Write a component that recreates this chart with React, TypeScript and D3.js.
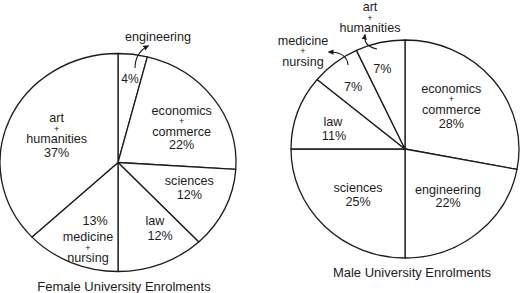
import React from "react";
import * as d3 from "d3";

// ---- data ----
const femaleCategories = ["engineering", "economics + commerce", "sciences", "law", "medicine + nursing", "art + humanities"];
const femaleValues = [4, 22, 12, 12, 13, 37];
const maleCategories = ["economics + commerce", "engineering", "sciences", "law", "medicine + nursing", "art + humanities"];
const maleValues = [28, 22, 25, 11, 7, 7];
const chartTitles = ["Female University Enrolments", "Male University Enrolments"];

// ---- layout (positions only) ----
type P = [number, number];
const femaleLayout = {
  cx: 118, cy: 162.5, rx: 118, ry: 109,
  title: [124, 286] as P,
  labels: [
    { name: [158, 36.5] as P, pct: [130, 79], pctSize: 12 },
    { name: [181.7, 110.5] as P, pct: [181.7, 145] as P },
    { name: [189.3, 181] as P, pct: [189.3, 194.5] as P },
    { name: [155, 221] as P, pct: [160, 236] as P },
    { name: [88, 237] as P, pct: [95, 220.5] as P },
    { name: [56.7, 118] as P, pct: [56.7, 152.5] as P },
  ],
  arrows: ["M135,68 Q135,53 148,46"],
};
const maleLayout = {
  cx: 405, cy: 149, rx: 114, ry: 109,
  title: [412, 272] as P,
  labels: [
    { name: [451.3, 88.5] as P, pct: [451.3, 123.5] as P },
    { name: [448, 189.5] as P, pct: [448, 203] as P },
    { name: [358, 188] as P, pct: [358, 202] as P },
    { name: [333, 121.5] as P, pct: [334, 136] as P },
    { name: [303, 40.5] as P, pct: [353, 87.3] as P },
    { name: [370, 7] as P, pct: [382.3, 69.3] as P },
  ],
  arrows: ["M377,49 Q363,46 365,35", "M348,65 Q347,52 329,52"],
};

const INK = "#1c1c1c";
const FONT = "'Liberation Sans', Arial, Helvetica, sans-serif";
const LABEL_SIZE = 12.6;

function NameBlock({ text, at }: { text: string; at: P }) {
  const parts = text.split(" + ");
  const lines: { t: string; plus: boolean }[] = [];
  parts.forEach((p, i) => {
    if (i > 0) lines.push({ t: "+", plus: true });
    lines.push({ t: p, plus: false });
  });
  let y = at[1];
  const out: React.ReactNode[] = [];
  lines.forEach((l, i) => {
    if (i > 0) y += l.plus || lines[i - 1].plus ? 10.5 : 13.5;
    out.push(
      <text key={i} x={at[0]} y={y} textAnchor="middle" dominantBaseline="central"
        fontSize={l.plus ? 9 : LABEL_SIZE} fill={INK} fontFamily={FONT}>{l.t}</text>
    );
  });
  return <g>{out}</g>;
}

function Pie({ categories, values, layout, title, id }: any) {
  const pie = d3.pie<number>().sort(null).value((d) => d).startAngle(0).endAngle(2 * Math.PI);
  const arcs = pie(values);
  const arc = d3.arc<d3.PieArcDatum<number>>().innerRadius(0).outerRadius(layout.ry);
  const sx = layout.rx / layout.ry;
  return (
    <g>
      <g transform={`translate(${layout.cx},${layout.cy}) scale(${sx},1)`}>
        {arcs.map((a, i) => (
          <path key={i} d={arc(a) || ""} fill="#fff" stroke={INK} strokeWidth={1.3}
            vectorEffect="non-scaling-stroke" strokeLinejoin="round" />
        ))}
      </g>
      {arcs.map((a, i) => (
        <g key={"l" + i}>
          <NameBlock text={categories[i]} at={layout.labels[i].name} />
          <text x={layout.labels[i].pct[0]} y={layout.labels[i].pct[1]} textAnchor="middle"
            dominantBaseline="central" fontSize={layout.labels[i].pctSize || LABEL_SIZE} fill={INK}
            fontFamily={FONT}>{`${values[i]}%`}</text>
        </g>
      ))}
      {layout.arrows.map((d: string, i: number) => (
        <path key={"a" + i} d={d} fill="none" stroke={INK} strokeWidth={1.1} markerEnd={`url(#arrow-${id})`} />
      ))}
      <text x={layout.title[0]} y={layout.title[1]} textAnchor="middle" dominantBaseline="central"
        fontSize={13} fill={INK} fontFamily={FONT}>{title}</text>
    </g>
  );
}

export default function App() {
  return (
    <svg width={526} height={293} viewBox="0 0 526 293"
      style={{ position: "absolute", left: 0, top: 0, background: "#fff" }}>
      <defs>
        {["f", "m"].map((id) => (
          <marker key={id} id={`arrow-${id}`} viewBox="0 0 8 8" refX={6} refY={4}
            markerWidth={6} markerHeight={6} orient="auto" markerUnits="userSpaceOnUse">
            <path d="M0,0.5 L8,4 L0,7.5 z" fill={INK} />
          </marker>
        ))}
      </defs>
      <rect x={0} y={0} width={526} height={293} fill="#fff" />
      <Pie id="f" categories={femaleCategories} values={femaleValues} layout={femaleLayout} title={chartTitles[0]} />
      <Pie id="m" categories={maleCategories} values={maleValues} layout={maleLayout} title={chartTitles[1]} />
    </svg>
  );
}
